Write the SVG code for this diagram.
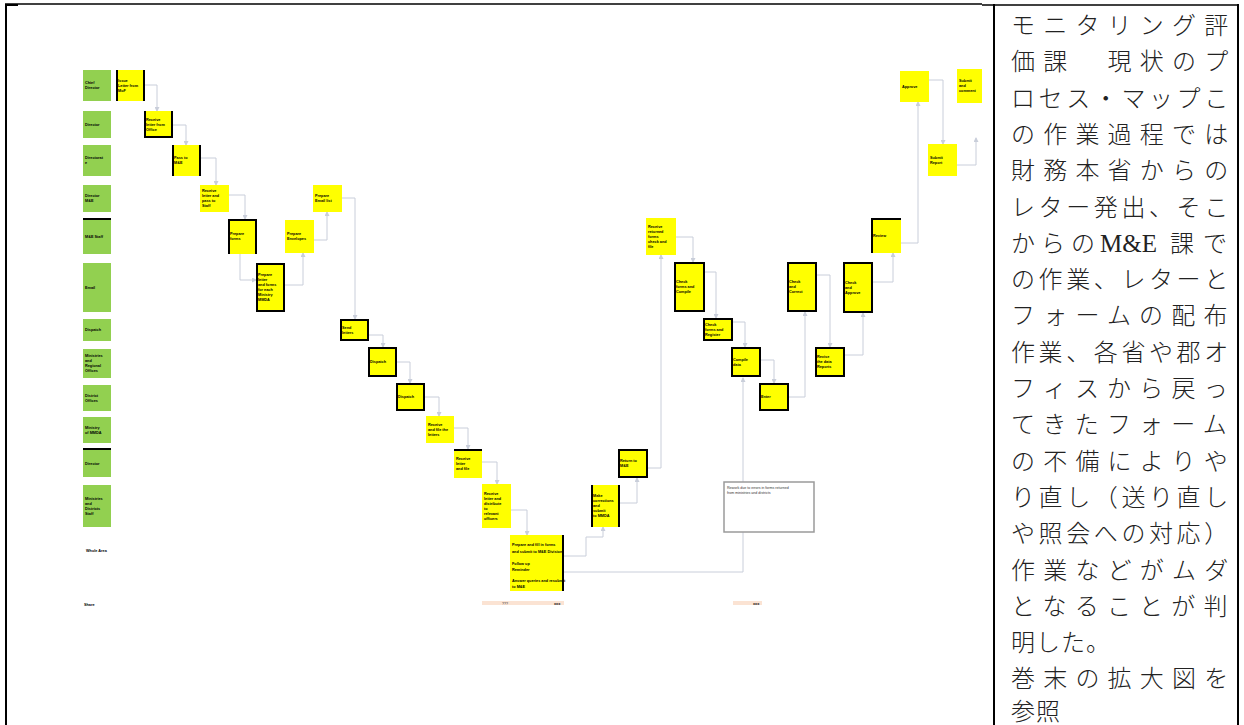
<svg xmlns="http://www.w3.org/2000/svg" width="1244" height="725" viewBox="0 0 1244 725">
<style>
.g{fill:#92D050}
.y{fill:#FFFF00}
.bd{fill:none;stroke:#000;stroke-width:2}
.c{fill:none;stroke:#C9CEDA;stroke-width:1}
.t{font-family:"Liberation Sans",Arial,sans-serif;font-size:3.8px;font-weight:bold;fill:#000}
.n{font-family:"Liberation Sans",Arial,sans-serif;font-size:3.6px;fill:#333}
.jp{font-family:"Noto Sans CJK JP","Noto Sans CJK SC",sans-serif;font-size:24px;font-weight:300;fill:#222}
.tb{stroke:#000;fill:none}
</style>
<defs>
<marker id="ar" markerWidth="5" markerHeight="5" refX="4" refY="2.5" orient="auto" markerUnits="userSpaceOnUse">
<path d="M0,0 L5,2.5 L0,5 z" fill="#C9CEDA"/>
</marker>
</defs>
<rect width="1244" height="725" fill="#fff"/>
<g id="table">
<path class="tb" stroke-width="1.5" d="M5,4 H982"/>
<path class="tb" stroke-width="2" d="M5,5 H18"/>
<path class="tb" stroke-width="2" d="M6,4 V725"/>
<path class="tb" stroke-width="1.5" d="M982,5 H1239"/>
<path class="tb" stroke-width="2" d="M994,4 V725"/>
<path class="tb" stroke-width="2" d="M1238,4 V725"/>
</g>
<g id="connectors">
<path class="c" marker-end="url(#ar)" d="M145,85 H157 V111"/>
<path class="c" marker-end="url(#ar)" d="M173,125 H186 V145"/>
<path class="c" marker-end="url(#ar)" d="M201,158 H216 V185"/>
<path class="c" marker-end="url(#ar)" d="M229,195 H245 V219"/>
<path class="c" marker-end="url(#ar)" d="M240,254 V280 H256"/>
<path class="c" marker-end="url(#ar)" d="M285,285 H303 V253"/>
<path class="c" marker-end="url(#ar)" d="M314,240 H327 V212"/>
<path class="c" marker-end="url(#ar)" d="M342,198 H355 V319"/>
<path class="c" marker-end="url(#ar)" d="M369,335 H383 V347"/>
<path class="c" marker-end="url(#ar)" d="M397,362 H410 V383"/>
<path class="c" marker-end="url(#ar)" d="M425,397 H439 V416"/>
<path class="c" marker-end="url(#ar)" d="M454,428 H468 V449"/>
<path class="c" marker-end="url(#ar)" d="M482,462 H497 V484"/>
<path class="c" marker-end="url(#ar)" d="M511,510 H527 V535"/>
<path class="c" marker-end="url(#ar)" d="M564,556 H586 V537 H603 V527"/>
<path class="c" marker-end="url(#ar)" d="M620,503 H637 V478"/>
<path class="c" marker-end="url(#ar)" d="M648,468 H661 V255"/>
<path class="c" marker-end="url(#ar)" d="M676,237 H693 V262"/>
<path class="c" marker-end="url(#ar)" d="M705,272 H716 V318"/>
<path class="c" marker-end="url(#ar)" d="M733,322 H745 V347"/>
<path class="c" marker-end="url(#ar)" d="M761,360 H774 V383"/>
<path class="c" marker-end="url(#ar)" d="M564,572 H743 V378"/>
<path class="c" marker-end="url(#ar)" d="M789,397 H805 V312"/>
<path class="c" marker-end="url(#ar)" d="M817,275 H830 V347"/>
<path class="c" marker-end="url(#ar)" d="M845,355 H863 V313"/>
<path class="c" marker-end="url(#ar)" d="M873,282 H893 V253"/>
<path class="c" marker-end="url(#ar)" d="M901,243 H918 V102"/>
<path class="c" marker-end="url(#ar)" d="M929,80 H943 V144"/>
<path class="c" marker-end="url(#ar)" d="M957,165 H976 V138"/>
</g>
<g id="lanes">
<g id="lane1"><rect class="g" x="83" y="70" width="28" height="31"/><text class="t" y="84"><tspan x="85">Chief</tspan><tspan x="85" dy="5">Director</tspan></text></g>
<g id="lane2"><rect class="g" x="83" y="111" width="28" height="27"/><text class="t" x="85" y="125.5">Director</text></g>
<g id="lane3"><rect class="g" x="83" y="145" width="28" height="31"/><text class="t" y="159"><tspan x="85">Directorat</tspan><tspan x="85" dy="5">e</tspan></text></g>
<g id="lane4"><rect class="g" x="83" y="185" width="28" height="27"/><text class="t" y="197"><tspan x="85">Director</tspan><tspan x="85" dy="5">M&amp;E</tspan></text></g>
<g id="lane5"><rect class="g" x="83" y="219" width="28" height="35"/><path class="bd" d="M83,219 H111"/><text class="t" x="85" y="237.5">M&amp;E Staff</text></g>
<g id="lane6"><rect class="g" x="83" y="263" width="28" height="49"/><text class="t" x="85" y="288.5">Email</text></g>
<g id="lane7"><rect class="g" x="83" y="319" width="28" height="22"/><text class="t" x="85" y="331">Dispatch</text></g>
<g id="lane8"><rect class="g" x="83" y="349" width="28" height="29"/><text class="t" y="357"><tspan x="85">Ministries</tspan><tspan x="85" dy="5">and</tspan><tspan x="85" dy="5">Regional</tspan><tspan x="85" dy="5">Offices</tspan></text></g>
<g id="lane9"><rect class="g" x="83" y="385" width="28" height="26"/><text class="t" y="396.5"><tspan x="85">District</tspan><tspan x="85" dy="5">Offices</tspan></text></g>
<g id="lane10"><rect class="g" x="83" y="417" width="28" height="26"/><text class="t" y="428.5"><tspan x="85">Ministry</tspan><tspan x="85" dy="5">of MMDA</tspan></text></g>
<g id="lane11"><rect class="g" x="83" y="450" width="28" height="27"/><path class="bd" d="M83,449 H111"/><text class="t" x="85" y="464.5">Director</text></g>
<g id="lane12"><rect class="g" x="83" y="485" width="28" height="42"/><text class="t" y="499.5"><tspan x="85">Ministries</tspan><tspan x="85" dy="5">and</tspan><tspan x="85" dy="5">Districts</tspan><tspan x="85" dy="5">Staff</tspan></text></g>
<g id="lane-total"><text class="t" x="86" y="551.5" font-size="4.2">Whole Area</text></g>
<g id="lane-share"><text class="t" x="84" y="605.5" font-size="4.2">Share</text></g>
</g>
<g id="nodes">
<g id="nA"><rect class="y" x="116" y="70" width="29" height="31"/><path class="bd" d="M117,70 V101 M144,70 V101"/><text class="t" y="81.5"><tspan x="118">Issue</tspan><tspan x="118" dy="5">Letter from</tspan><tspan x="118" dy="5">MoF</tspan></text></g>
<g id="nB"><rect class="y" x="144" y="111" width="29" height="27"/><path class="bd" d="M145,111 V137 H172 V111"/><text class="t" y="120.5"><tspan x="146">Receive</tspan><tspan x="146" dy="5">letter from</tspan><tspan x="146" dy="5">Office</tspan></text></g>
<g id="nC"><rect class="y" x="172" y="145" width="29" height="31"/><path class="bd" d="M173,145 V176 M200,145 V176"/><text class="t" y="159"><tspan x="174">Pass to</tspan><tspan x="174" dy="5">M&amp;E</tspan></text></g>
<g id="nD"><rect class="y" x="200" y="185" width="29" height="27"/><text class="t" y="192"><tspan x="202">Receive</tspan><tspan x="202" dy="5">letter and</tspan><tspan x="202" dy="5">pass to</tspan><tspan x="202" dy="5">Staff</tspan></text></g>
<g id="nE"><rect class="y" x="228" y="219" width="29" height="35"/><path class="bd" d="M229,254 V220 H256 V254"/><text class="t" y="235"><tspan x="230">Prepare</tspan><tspan x="230" dy="5">forms</tspan></text></g>
<g id="nF"><rect class="y" x="285" y="220" width="29" height="33"/><text class="t" y="235"><tspan x="287">Prepare</tspan><tspan x="287" dy="5">Envelopes</tspan></text></g>
<g id="nG"><rect class="y" x="313" y="185" width="29" height="27"/><text class="t" y="197"><tspan x="315">Prepare</tspan><tspan x="315" dy="5">Email list</tspan></text></g>
<g id="nH"><rect class="y" x="256" y="263" width="29" height="49"/><rect class="bd" x="257" y="264" width="27" height="47"/><text class="t" y="276"><tspan x="258">Prepare</tspan><tspan x="258" dy="5">letter</tspan><tspan x="258" dy="5">and forms</tspan><tspan x="258" dy="5">for each</tspan><tspan x="258" dy="5">Ministry</tspan><tspan x="258" dy="5">MMDA</tspan></text></g>
<g id="nI"><rect class="y" x="340" y="319" width="29" height="22"/><rect class="bd" x="341" y="320" width="27" height="20"/><text class="t" y="328.5"><tspan x="342">Send</tspan><tspan x="342" dy="5">letters</tspan></text></g>
<g id="nJ"><rect class="y" x="368" y="347" width="29" height="30"/><rect class="bd" x="369" y="348" width="27" height="28"/><text class="t" x="370" y="363">Dispatch</text></g>
<g id="nK"><rect class="y" x="396" y="383" width="29" height="28"/><rect class="bd" x="397" y="384" width="27" height="26"/><text class="t" x="398" y="398">Dispatch</text></g>
<g id="nL"><rect class="y" x="426" y="416" width="28" height="27"/><text class="t" y="425.5"><tspan x="428">Receive</tspan><tspan x="428" dy="5">and file the</tspan><tspan x="428" dy="5">letters</tspan></text></g>
<g id="nM"><rect class="y" x="454" y="449" width="28" height="29"/><path class="bd" d="M454,450 H482"/><text class="t" y="459.5"><tspan x="456">Receive</tspan><tspan x="456" dy="5">letter</tspan><tspan x="456" dy="5">and file</tspan></text></g>
<g id="nN"><rect class="y" x="482" y="484" width="29" height="44"/><text class="t" y="494.5"><tspan x="484">Receive</tspan><tspan x="484" dy="5">letter and</tspan><tspan x="484" dy="5">distribute</tspan><tspan x="484" dy="5">to</tspan><tspan x="484" dy="5">relevant</tspan><tspan x="484" dy="5">officers</tspan></text></g>
<g id="nO"><rect class="y" x="510" y="535" width="54" height="56"/><path class="bd" d="M563,535 V591"/><text class="t"><tspan x="512" y="546">Prepare and fill in forms</tspan><tspan x="512" y="553">and submit to M&amp;E Division</tspan><tspan x="512" y="565">Follow up</tspan><tspan x="512" y="571">Reminder</tspan><tspan x="512" y="582">Answer queries and resubmit</tspan><tspan x="512" y="588">to M&amp;E</tspan></text></g>
<g id="nP"><rect class="y" x="591" y="485" width="29" height="42"/><path class="bd" d="M592,485 V527 M619,485 V527"/><text class="t" y="497"><tspan x="593">Make</tspan><tspan x="593" dy="5">corrections</tspan><tspan x="593" dy="5">and</tspan><tspan x="593" dy="5">submit</tspan><tspan x="593" dy="5">to MMDA</tspan></text></g>
<g id="nQ"><rect class="y" x="618" y="449" width="30" height="29"/><rect class="bd" x="619" y="450" width="28" height="27"/><text class="t" y="462"><tspan x="620">Return to</tspan><tspan x="620" dy="5">M&amp;E</tspan></text></g>
<g id="nR"><rect class="y" x="646" y="218" width="30" height="37"/><text class="t" y="227.5"><tspan x="648">Receive</tspan><tspan x="648" dy="5">returned</tspan><tspan x="648" dy="5">forms</tspan><tspan x="648" dy="5">check and</tspan><tspan x="648" dy="5">file</tspan></text></g>
<g id="nS"><rect class="y" x="674" y="262" width="31" height="50"/><rect class="bd" x="675" y="263" width="29" height="48"/><text class="t" y="283"><tspan x="676">Check</tspan><tspan x="676" dy="5">forms and</tspan><tspan x="676" dy="5">Compile</tspan></text></g>
<g id="nT"><rect class="y" x="703" y="318" width="30" height="23"/><rect class="bd" x="704" y="319" width="28" height="21"/><text class="t" y="325.5"><tspan x="705">Check</tspan><tspan x="705" dy="5">forms and</tspan><tspan x="705" dy="5">Register</tspan></text></g>
<g id="nU"><rect class="y" x="731" y="347" width="30" height="30"/><rect class="bd" x="732" y="348" width="28" height="28"/><text class="t" y="360.5"><tspan x="733">Compile</tspan><tspan x="733" dy="5">data</tspan></text></g>
<g id="nV"><rect class="y" x="759" y="383" width="30" height="28"/><rect class="bd" x="760" y="384" width="28" height="26"/><text class="t" x="761" y="398">Enter</text></g>
<g id="nW"><rect class="y" x="787" y="262" width="30" height="50"/><rect class="bd" x="788" y="263" width="28" height="48"/><text class="t" y="283"><tspan x="789">Check</tspan><tspan x="789" dy="5">and</tspan><tspan x="789" dy="5">Correct</tspan></text></g>
<g id="nX"><rect class="y" x="815" y="347" width="30" height="30"/><rect class="bd" x="816" y="348" width="28" height="28"/><text class="t" y="358"><tspan x="817">Revise</tspan><tspan x="817" dy="5">the data</tspan><tspan x="817" dy="5">Reports</tspan></text></g>
<g id="nY"><rect class="y" x="843" y="262" width="30" height="51"/><rect class="bd" x="844" y="263" width="28" height="49"/><text class="t" y="283.5"><tspan x="845">Check</tspan><tspan x="845" dy="5">and</tspan><tspan x="845" dy="5">Approve</tspan></text></g>
<g id="nZ"><rect class="y" x="871" y="218" width="30" height="35"/><path class="bd" d="M872,253 V219 H901"/><text class="t" x="873" y="236.5">Review</text></g>
<g id="nAA"><rect class="y" x="900" y="71" width="29" height="31"/><text class="t" x="902" y="87.5">Approve</text></g>
<g id="nAB"><rect class="y" x="928" y="144" width="29" height="32"/><text class="t" y="158.5"><tspan x="930">Submit</tspan><tspan x="930" dy="5">Report</tspan></text></g>
<g id="nAC"><rect class="y" x="957" y="69" width="25" height="34"/><text class="t" y="82"><tspan x="959">Submit</tspan><tspan x="959" dy="5">and</tspan><tspan x="959" dy="5">comment</tspan></text></g>
<g id="note"><rect x="724" y="482" width="90" height="50" fill="#fff" stroke="#9a9a9a" stroke-width="1.5"/><text class="n" y="489"><tspan x="727">Rework due to errors in forms returned</tspan><tspan x="727" dy="5">from ministries and districts</tspan></text></g>
<g id="bar1"><rect x="482" y="601" width="82" height="4" fill="#FBE3D3"/><text class="n" x="502" y="604.5">???</text><text class="t" x="554" y="604.5">xxx</text></g>
<g id="bar2"><rect x="733" y="601" width="29" height="4" fill="#FBE3D3"/><text class="t" x="753" y="604.5">xxx</text></g>
</g>
<g id="caption">
<text class="jp" x="1011" y="34" letter-spacing="8.2">モニタリング評</text>
<text class="jp" x="1011" y="70.3" letter-spacing="8.2">価課　現状のプ</text>
<text class="jp" x="1011" y="106.6" letter-spacing="3.6">ロセス・マップこ</text>
<text class="jp" x="1011" y="142.9" letter-spacing="8.2">の作業過程では</text>
<text class="jp" x="1011" y="179.2" letter-spacing="8.2">財務本省からの</text>
<text class="jp" x="1011" y="215.5" letter-spacing="3.6">レター発出、そこ</text>
<text class="jp" y="251.8"><tspan x="1011" letter-spacing="6">からの</tspan><tspan x="1100" font-family="Liberation Serif, serif" font-size="25" font-weight="normal">M&amp;E</tspan><tspan x="1170">課</tspan><tspan x="1203">で</tspan></text>
<text class="jp" x="1011" y="288.1" letter-spacing="3.6">の作業、レターと</text>
<text class="jp" x="1011" y="324.4" letter-spacing="8.2">フォームの配布</text>
<text class="jp" x="1011" y="360.7" letter-spacing="3.6">作業、各省や郡オ</text>
<text class="jp" x="1011" y="397" letter-spacing="8.2">フィスから戻っ</text>
<text class="jp" x="1011" y="433.3" letter-spacing="8.2">てきたフォーム</text>
<text class="jp" x="1011" y="469.6" letter-spacing="8.2">の不備によりや</text>
<text class="jp" x="1011" y="505.9" letter-spacing="3.6">り直し（送り直し</text>
<text class="jp" x="1011" y="542.2" letter-spacing="3.6">や照会への対応）</text>
<text class="jp" x="1011" y="578.5" letter-spacing="8.2">作業などがムダ</text>
<text class="jp" x="1011" y="614.8" letter-spacing="8.2">となることが判</text>
<text class="jp" x="1011" y="651.1" letter-spacing="1">明した。</text>
<text class="jp" x="1011" y="687.4" letter-spacing="8.2">巻末の拡大図を</text>
<text class="jp" x="1011" y="720" letter-spacing="1">参照</text>
</g>
</svg>
